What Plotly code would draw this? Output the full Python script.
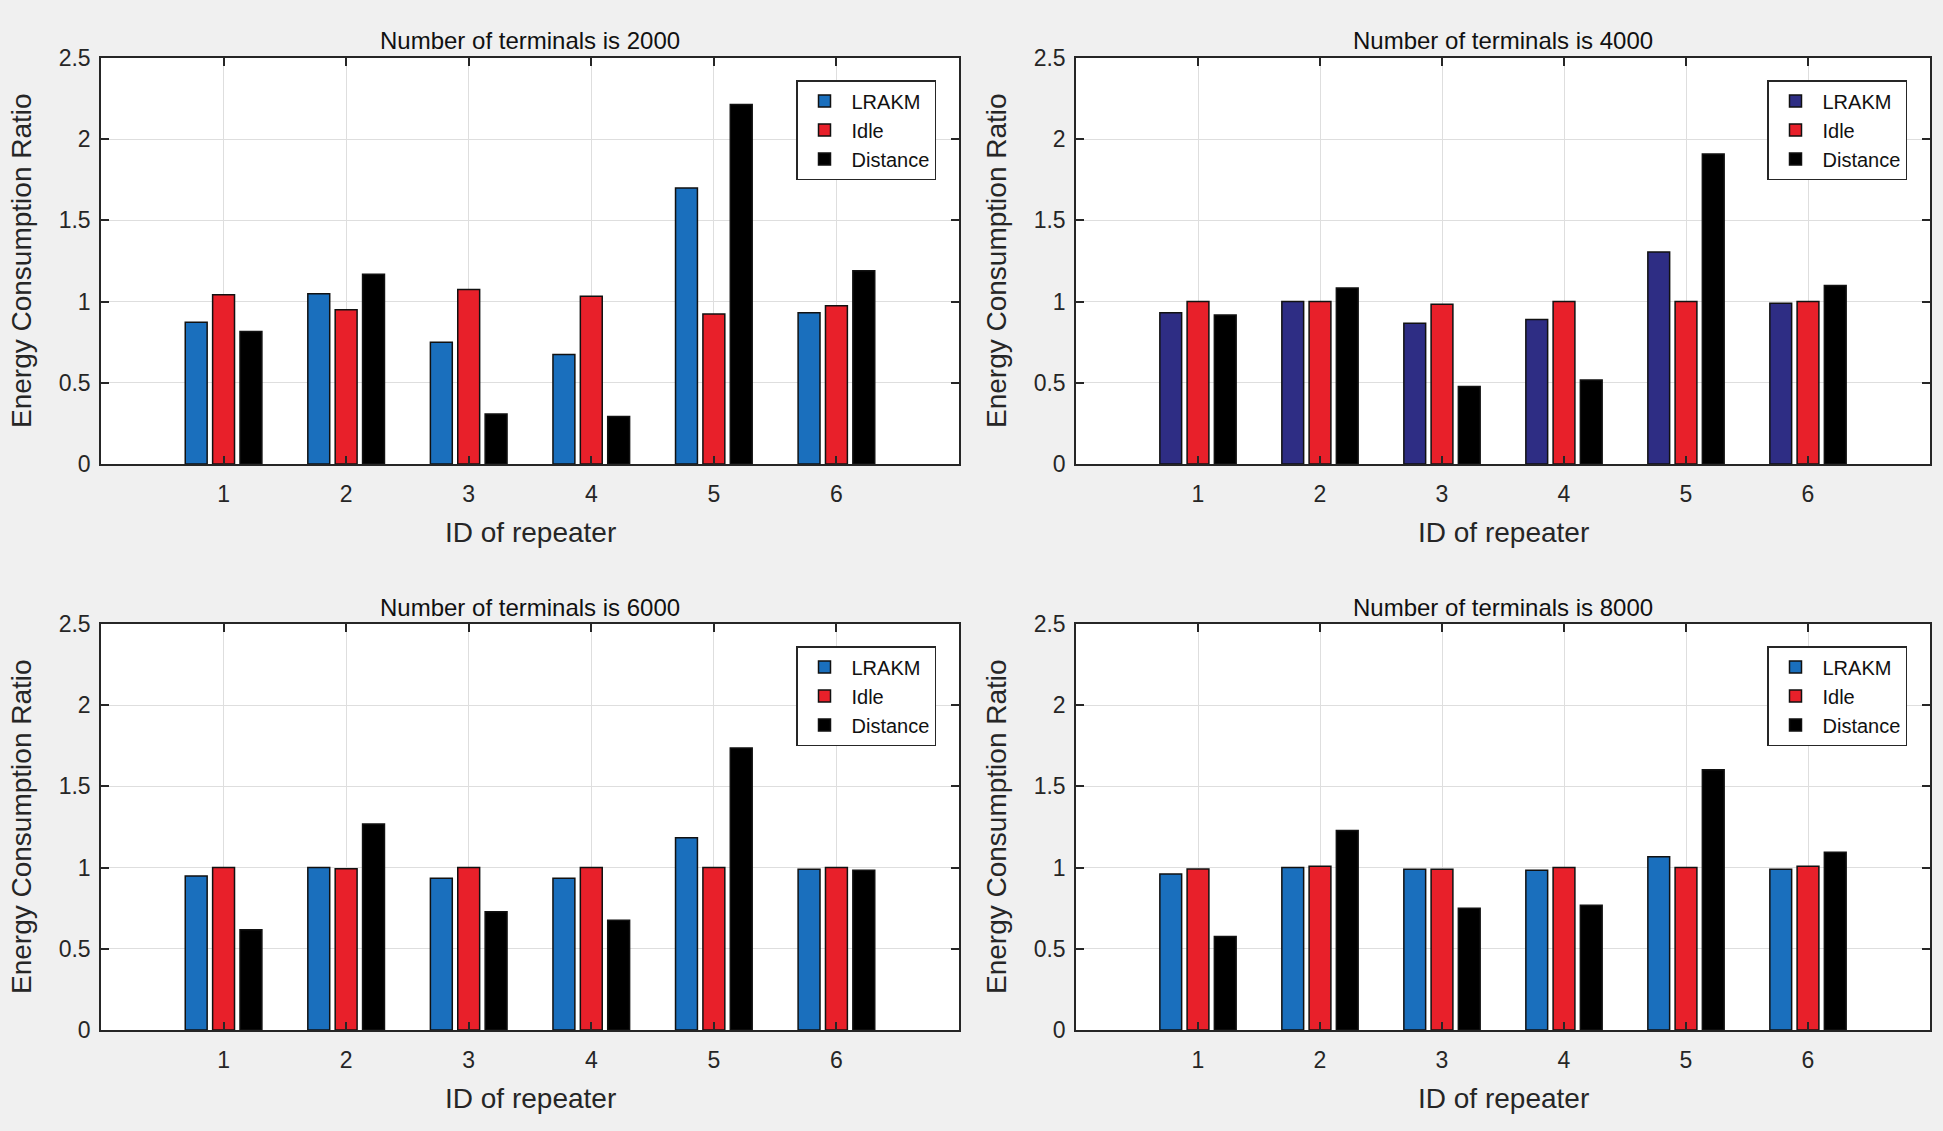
import plotly.graph_objects as go

repeater_ids = [1, 2, 3, 4, 5, 6]
terminal_counts = [2000, 4000, 6000, 8000]
series_names = ["LRAKM", "Idle", "Distance"]

lrakm_2000 = [0.873, 1.049, 0.750, 0.675, 1.700, 0.932]
idle_2000 = [1.042, 0.950, 1.075, 1.033, 0.923, 0.974]
distance_2000 = [0.816, 1.168, 0.308, 0.292, 2.214, 1.190]

lrakm_4000 = [0.932, 1.000, 0.866, 0.890, 1.306, 0.990]
idle_4000 = [1.000, 1.000, 0.983, 1.000, 1.000, 1.000]
distance_4000 = [0.917, 1.084, 0.477, 0.517, 1.909, 1.099]

lrakm_6000 = [0.948, 1.000, 0.934, 0.934, 1.184, 0.990]
idle_6000 = [1.000, 0.993, 1.000, 1.000, 1.000, 1.000]
distance_6000 = [0.618, 1.269, 0.728, 0.676, 1.736, 0.984]

lrakm_8000 = [0.961, 1.000, 0.990, 0.984, 1.067, 0.990]
idle_8000 = [0.991, 1.008, 0.990, 1.000, 1.000, 1.008]
distance_8000 = [0.575, 1.229, 0.750, 0.768, 1.602, 1.094]

y_ticks = [0, 0.5, 1, 1.5, 2, 2.5]
y_tick_labels = ["0", "0.5", "1", "1.5", "2", "2.5"]

panels = [
    (lrakm_2000, idle_2000, distance_2000),
    (lrakm_4000, idle_4000, distance_4000),
    (lrakm_6000, idle_6000, distance_6000),
    (lrakm_8000, idle_8000, distance_8000),
]

W, H = 1943, 1131
FONT = "Liberation Sans, Arial, sans-serif"
BLUE = "#1a6fbd"
NAVY = "#2e2d84"
RED = "#e8202a"
BLACK = "#000000"

# pixel boxes of the four axes: (left, right, top, bottom)
boxes = [
    (101, 959, 58, 464),
    (1076, 1930, 58, 464),
    (101, 959, 624, 1030),
    (1076, 1930, 624, 1030),
]

fig = go.Figure()
annotations = []
legend_names = ["legend", "legend2", "legend3", "legend4"]

for i, (vals, box) in enumerate(zip(panels, boxes)):
    l, r, t, b = box
    xa = "x" if i == 0 else f"x{i+1}"
    ya = "y" if i == 0 else f"y{i+1}"
    colors = [NAVY if i == 1 else BLUE, RED, BLACK]
    for name, v, c in zip(series_names, vals, colors):
        fig.add_trace(go.Bar(
            x=repeater_ids, y=v, name=name, xaxis=xa, yaxis=ya,
            marker=dict(color=c, line=dict(color="#111111", width=1.5)),
            legend=legend_names[i], offsetgroup=name,
        ))
    xkey = "xaxis" if i == 0 else f"xaxis{i+1}"
    ykey = "yaxis" if i == 0 else f"yaxis{i+1}"
    axis_common = dict(
        showline=True, linecolor="#262626", linewidth=1.5, mirror="allticks",
        ticks="inside", ticklen=8, tickwidth=1.5, tickcolor="#262626",
        showgrid=True, gridcolor="#dedede", gridwidth=1.2, zeroline=False,
        tickfont=dict(family=FONT, size=23, color="#262626"),
        automargin=False,
    )
    fig.layout[xkey] = dict(
        axis_common, domain=[l / W, r / W], range=[0, 7],
        tickvals=repeater_ids, ticktext=[str(k) for k in repeater_ids],
        anchor=ya, ticklabelstandoff=9,
    )
    fig.layout[ykey] = dict(
        axis_common, domain=[1 - b / H, 1 - t / H], range=[0, 2.5],
        tickvals=y_ticks, ticktext=y_tick_labels, anchor=xa,
        ticklabelstandoff=4,
    )
    cx = (l + r) / 2
    # subplot title
    annotations.append(dict(
        text=f"Number of terminals is {terminal_counts[i]}",
        x=cx / W, y=1 - (t - 17) / H, xref="paper", yref="paper",
        xanchor="center", yanchor="middle", showarrow=False,
        font=dict(family=FONT, size=24, color="#111111"),
    ))
    # x axis title
    annotations.append(dict(
        text="ID of repeater", x=cx / W, y=1 - (b + 68) / H,
        xref="paper", yref="paper", xanchor="center", yanchor="middle",
        showarrow=False, font=dict(family=FONT, size=28, color="#262626"),
    ))
    # y axis title
    annotations.append(dict(
        text="Energy Consumption Ratio", x=(l - 80) / W, y=1 - ((t + b) / 2) / H,
        xref="paper", yref="paper", xanchor="center", yanchor="middle",
        textangle=-90, showarrow=False,
        font=dict(family=FONT, size=28, color="#262626"),
    ))
    leg = dict(
        x=(r - 23) / W, y=1 - (t + 22) / H, xanchor="right", yanchor="top",
        bgcolor="white", bordercolor="#262626", borderwidth=1.5,
        font=dict(family=FONT, size=20, color="#111111"),
        itemwidth=44, tracegroupgap=0,
    )
    fig.layout[legend_names[i]] = leg

fig.update_layout(
    width=W, height=H,
    paper_bgcolor="#f0f0f0", plot_bgcolor="white",
    margin=dict(l=0, r=0, t=0, b=0),
    barmode="group", bargap=0.33, bargroupgap=0.2,
    annotations=annotations, showlegend=True,
)

fig.write_html(
    "out.html",
    config={"displayModeBar": False},
    post_script="document.body.style.margin='0';document.body.style.overflow='hidden';",
)
